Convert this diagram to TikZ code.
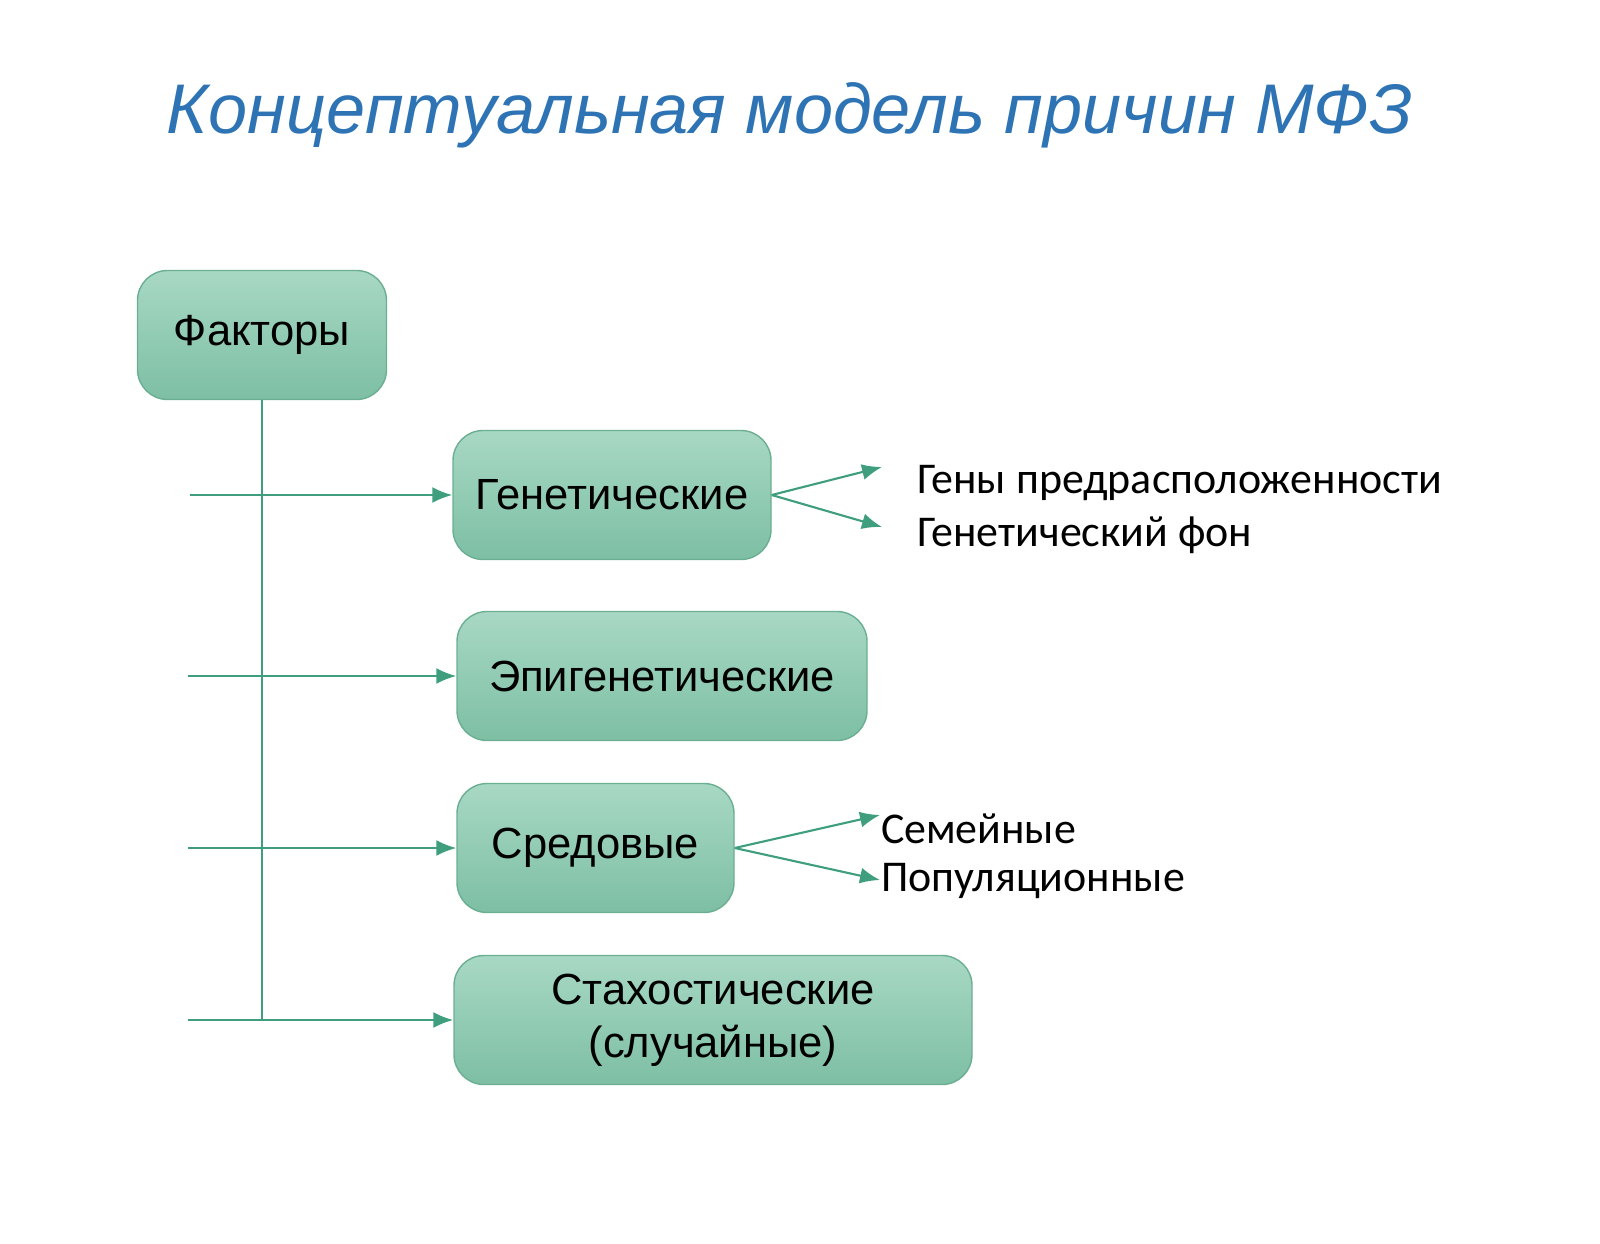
\documentclass[tikz,border=0pt]{standalone}
\usepackage{fontspec}
\setmainfont{Liberation Sans}
\newfontfamily\calib{Carlito}
\usetikzlibrary{arrows.meta,positioning,calc}
\definecolor{boxtop}{HTML}{A8D8C4}
\definecolor{boxbot}{HTML}{7DBFA4}
\definecolor{boxline}{HTML}{6BAF93}
\definecolor{linkcol}{HTML}{3E9E7E}
\definecolor{titlecol}{HTML}{2E74B5}

\begin{document}
\begin{tikzpicture}[-{Latex[length=2mm,width=1.6mm]}, semithick, color=linkcol]
	\tikzstyle{factor}=[draw=boxline,thin,rounded corners=3mm,top color=boxtop,bottom color=boxbot,text=black,font=\fontsize{12.4pt}{15pt}\selectfont,minimum height=1.29cm,align=center]
	\tikzstyle{item}=[text=black,font=\calib\fontsize{12.5pt}{15pt}\selectfont,anchor=west,inner sep=0pt]
	\useasboundingbox (0,0) rectangle (16,12.43);
	
	\node[text=titlecol,font=\itshape\fontsize{20pt}{24pt}\selectfont] (title) at (7.9,11.28) {Концептуальная модель причин МФЗ};
	
	\node[factor,minimum width=2.49cm] (F) at (2.62,9.08) {Факторы};
	\node[factor,minimum width=3.18cm] (G) at (6.12,7.48) {Генетические};
	\node[factor,minimum width=4.10cm] (E) at (6.62,5.67) {Эпигенетические};
	\node[factor,minimum width=2.77cm] (S) at (5.955,3.95) {Средовые};
	\node[factor,minimum width=5.18cm] (R) at (7.13,2.23) {Стахостические\\(случайные)};
	
	\coordinate (g0) at (1.90,7.48);
	\coordinate (e0) at (1.88,5.67);
	\coordinate (s0) at (1.88,3.95);
	\coordinate (r0) at (1.88,2.23);
	\coordinate (bend) at (2.62,2.23);
	\coordinate (g1) at (8.82,7.76);
	\coordinate (g2) at (8.82,7.16);
	\coordinate (s1) at (8.80,4.28);
	\coordinate (s2) at (8.80,3.63);
	
	\node[item] (G1) at (9.16,7.60) {Гены предрасположенности};
	\node[item] (G2) at (9.16,7.08) {Генетический фон};
	\node[item] (S1) at (8.80,4.14) {Семейные};
	\node[item] (S2) at (8.80,3.62) {Популяционные};
	
	\draw[-] (F.south) -- (bend);
	\draw (g0) -- (G);
	\draw (e0) -- (E);
	\draw (s0) -- (S);
	\draw (r0) -- (R);
	
	\draw (G.east) -- (g1);
	\draw (G.east) -- (g2);
	\draw (S.east) -- (s1);
	\draw (S.east) -- (s2);
\end{tikzpicture}
\end{document}
